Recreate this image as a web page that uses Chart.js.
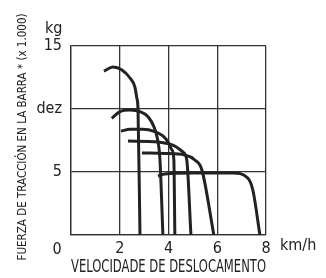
<!DOCTYPE html>
<html>
<head>
<meta charset="utf-8">
<script src="https://cdn.jsdelivr.net/npm/chart.js@4/dist/chart.umd.min.js"></script>
<style>
  html, body { margin: 0; padding: 0; background: #fff; }
  #wrap { width: 326px; height: 278px; position: relative; }
</style>
</head>
<body>
<div id="wrap"><canvas id="chart"></canvas></div>
<script>
// axis ticks
const speedTicks = [0, 2, 4, 6, 8];
const forceTicks = [0, 5, 10, 15];
const forceTickLabels = ['0', '5', 'dez', '15'];

// traction curves, one per gear (speed km/h, force x1000 kg)
const gear1Speed = [1.35, 1.72, 2.09, 2.42, 2.62, 2.70, 2.75, 2.83];
const gear1Force = [13.0, 13.33, 13.1, 12.46, 11.75, 10.87, 9.92, 0];
const gear2Speed = [1.67, 2.01, 2.42, 2.83, 3.16, 3.40, 3.55, 3.65, 3.77];
const gear2Force = [9.26, 9.79, 9.92, 9.79, 9.39, 8.6, 7.6, 5.95, 0];
const gear3Speed = [2.05, 2.42, 2.95, 3.44, 3.77, 3.98, 4.14, 4.22, 4.26];
const gear3Force = [8.25, 8.39, 8.39, 8.2, 7.86, 7.38, 6.75, 5.95, 0];
const gear4Speed = [2.34, 3.57, 4.26, 4.59, 4.75, 4.92];
const gear4Force = [7.46, 7.38, 7.06, 6.59, 5.95, 0];
const gear5Speed = [2.91, 3.85, 4.67, 5.08, 5.37, 5.86];
const gear5Force = [6.51, 6.47, 6.35, 5.95, 5.16, 0];
const gear6Speed = [3.57, 3.85, 5.0, 6.64, 7.25, 7.46, 7.75];
const gear6Force = [4.68, 4.84, 4.92, 4.92, 4.52, 3.57, 0];

const gears = [
    [gear1Speed, gear1Force],
    [gear2Speed, gear2Force],
    [gear3Speed, gear3Force],
    [gear4Speed, gear4Force],
    [gear5Speed, gear5Force],
    [gear6Speed, gear6Force]
];

const FONT = "'Liberation Sans Narrow', 'Arial Narrow', 'DejaVu Sans Condensed', sans-serif";
const INK = '#222';
const Y_TITLE = 'FUERZA DE TRACCIÓN EN LA BARRA * (x 1.000)';

// extra labels: unit marks, the offset zero and the vertical title
const extraLabels = {
    id: 'extraLabels',
    afterDraw(chart) {
        const { ctx, scales: { x, y } } = chart;
        ctx.save();
        ctx.fillStyle = INK;
        ctx.font = '16px ' + FONT;
        ctx.textBaseline = 'middle';
        ctx.textAlign = 'left';
        ctx.fillText('kg', 45, 29);
        ctx.fillText('km/h', x.right + 14, y.bottom + 11);
        ctx.textAlign = 'center';
        ctx.fillText('0', 57, y.bottom + 15);

        // fit the long title into the height it takes in the picture
        let size = 14;
        ctx.font = size + 'px ' + FONT;
        const w = ctx.measureText(Y_TITLE).width;
        if (w > 247) size = size * 247 / w;
        ctx.font = size + 'px ' + FONT;
        ctx.translate(23, 137);
        ctx.rotate(-Math.PI / 2);
        ctx.fillText(Y_TITLE, 0, 0);
        ctx.restore();
    }
};

new Chart(document.getElementById('chart'), {
    type: 'scatter',
    data: {
        datasets: gears.map(([sp, fc]) => ({
            data: sp.map((v, i) => ({ x: v, y: fc[i] })),
            showLine: true,
            borderColor: INK,
            borderWidth: 3,
            pointRadius: 0,
            cubicInterpolationMode: 'monotone'
        }))
    },
    options: {
        responsive: true,
        maintainAspectRatio: false,
        animation: false,
        layout: { padding: { top: 46, right: 60, left: 0, bottom: 0 } },
        plugins: { legend: { display: false }, tooltip: { enabled: false } },
        scales: {
            x: {
                type: 'linear',
                min: 0,
                max: 8,
                afterBuildTicks: s => { s.ticks = speedTicks.map(v => ({ value: v })); },
                afterFit: s => { s.height = 43; },
                ticks: {
                    callback: v => v === 0 ? '' : String(v),
                    color: INK,
                    font: { family: FONT, size: 16 },
                    padding: 4,
                    maxRotation: 0
                },
                grid: { color: '#333', lineWidth: 1.3, drawTicks: false },
                border: { color: '#333', width: 1.3 },
                title: {
                    display: true,
                    text: 'VELOCIDADE DE DESLOCAMENTO',
                    color: INK,
                    font: { family: FONT, size: 17 },
                    padding: { top: 0, bottom: 0 }
                }
            },
            y: {
                type: 'linear',
                min: 0,
                max: 15,
                afterBuildTicks: s => { s.ticks = forceTicks.map(v => ({ value: v })); },
                afterFit: s => { s.width = 71; },
                ticks: {
                    callback: v => v === 0 ? '' : forceTickLabels[forceTicks.indexOf(v)],
                    color: INK,
                    font: { family: FONT, size: 16 },
                    padding: 9
                },
                grid: { color: '#333', lineWidth: 1.3, drawTicks: false },
                border: { color: '#333', width: 1.3 },
                title: { display: false }
            }
        }
    },
    plugins: [extraLabels]
});
</script>
</body>
</html>
